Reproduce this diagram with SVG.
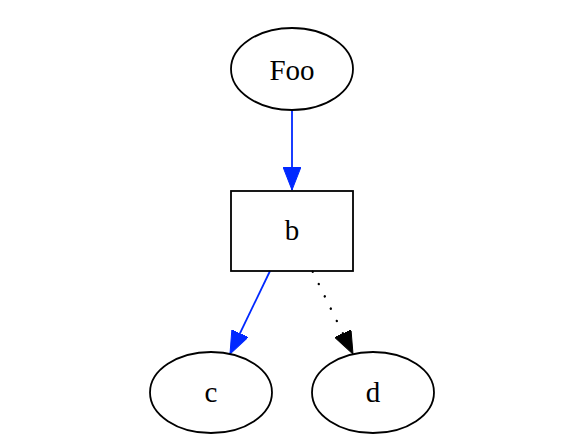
<svg xmlns="http://www.w3.org/2000/svg" width="586" height="442" viewBox="0 0 586 442">
<style>
.node{fill:none;stroke:#000;stroke-width:1.8}
.lbl{font-family:"Liberation Serif","Times New Roman",serif;font-size:29px;fill:#000;text-anchor:middle}
.e{fill:none;stroke-width:1.8}
.blue{stroke:#0028ff}
.dot{stroke:#000;stroke-width:2.4;stroke-dasharray:0.1,13.6;stroke-linecap:round}
</style>
<defs>
<marker id="ab" viewBox="0 0 23 18" refX="23" refY="9" markerWidth="23" markerHeight="18" markerUnits="userSpaceOnUse" orient="auto"><path d="M0,0 L23,9 L0,18 z" fill="#0028ff" stroke="#0028ff" stroke-width="1"/></marker>
<marker id="ak" viewBox="0 0 23 18" refX="23" refY="9" markerWidth="23" markerHeight="18" markerUnits="userSpaceOnUse" orient="auto"><path d="M0,0 L23,9 L0,18 z" fill="#000" stroke="#000" stroke-width="1"/></marker>
</defs>
<rect width="586" height="442" fill="#fff"/>
<g id="edges">
<path class="e blue" d="M292,110 L292,190" marker-end="url(#ab)"/>
<path class="e blue" d="M270,271 L230,354" marker-end="url(#ab)"/>
<path class="e dot" d="M312.7,271.7 L353,354" marker-end="url(#ak)"/>
</g>
<g id="foo"><ellipse class="node" cx="292" cy="69" rx="61" ry="41"/><text class="lbl" x="292" y="80">Foo</text></g>
<g id="b"><rect class="node" x="231" y="191" width="122" height="80"/><text class="lbl" x="292" y="240">b</text></g>
<g id="c"><ellipse class="node" cx="211" cy="392.5" rx="61" ry="40.5"/><text class="lbl" x="211" y="402">c</text></g>
<g id="d"><ellipse class="node" cx="373" cy="392.5" rx="61" ry="40.5"/><text class="lbl" x="373" y="402">d</text></g>
</svg>
